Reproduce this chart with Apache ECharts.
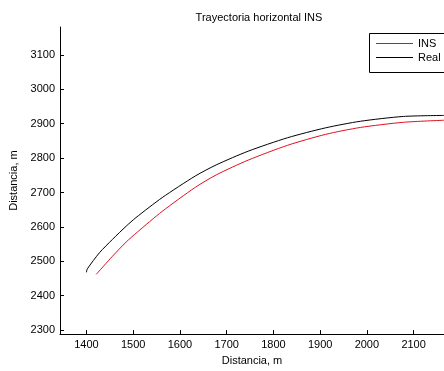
<!DOCTYPE html>
<html>
<head>
<meta charset="utf-8">
<script src="https://cdn.jsdelivr.net/npm/echarts@6/dist/echarts.min.js"></script>
<style>
html,body{margin:0;padding:0;background:#fff;}
#c{width:444px;height:371px;}
</style>
</head>
<body>
<div id="c"></div>
<script>
var titleText = 'Trayectoria horizontal INS';
var xName = 'Distancia, m';
var yName = 'Distancia, m';
var xTicks = [1400, 1500, 1600, 1700, 1800, 1900, 2000, 2100];
var yTicks = [2300, 2400, 2500, 2600, 2700, 2800, 2900, 3000, 3100];

var realX = [1400, 1402, 1428, 1456, 1485, 1506, 1562, 1633, 1679, 1746, 1830, 1912, 1986, 2078, 2165];
var realY = [2468, 2478, 2525, 2564, 2602, 2627, 2685, 2748, 2781, 2820, 2859, 2888, 2907, 2921, 2924];

var insX = [1421, 1456, 1485, 1509, 1562, 1633, 1679, 1746, 1830, 1912, 1986, 2078, 2165];
var insY = [2462, 2515, 2556, 2585, 2645, 2715, 2752, 2794, 2837, 2869, 2889, 2904, 2910];

function pairs(xs, ys) { return xs.map(function (x, i) { return [x, ys[i]]; }); }
function plain(v) { return String(v); }

var FONT = 'Liberation Sans';
var chart = echarts.init(document.getElementById('c'), null, {renderer: 'canvas'});
chart.setOption({
  animation: false,
  backgroundColor: '#fff',
  title: {
    text: titleText,
    left: 254, top: 7,
    textAlign: 'center',
    textStyle: {fontFamily: FONT, fontSize: 11, fontWeight: 'normal', color: '#000'}
  },
  graphic: [{
    type: 'rect', z: 3, silent: true,
    shape: {x: 369.5, y: 33.5, width: 120, height: 39},
    style: {fill: '#fff', stroke: '#000', lineWidth: 1}
  }],
  legend: {
    orient: 'vertical',
    left: 369, top: 33, z: 10,
    padding: [5, 10, 4, 7],
    icon: 'rect',
    itemWidth: 37, itemHeight: 1, itemGap: 3,
    textStyle: {fontFamily: FONT, fontSize: 11, color: '#000'},
    data: ['INS', 'Real']
  },
  grid: {left: 60, top: 27, right: -4, bottom: 36, containLabel: false},
  xAxis: {
    type: 'value',
    min: 1343.5, max: 2165,
    name: xName, nameLocation: 'middle', nameGap: 20,
    nameTextStyle: {fontFamily: FONT, fontSize: 11, color: '#000'},
    axisLine: {show: true, onZero: false, lineStyle: {color: '#000', width: 1}},
    axisTick: {show: true, inside: true, length: 4, customValues: xTicks, lineStyle: {color: '#000'}},
    axisLabel: {customValues: xTicks, formatter: plain, margin: 5, fontFamily: FONT, fontSize: 11, color: '#000'},
    splitLine: {show: false}
  },
  yAxis: {
    type: 'value',
    min: 2288.4, max: 3181,
    name: yName, nameLocation: 'middle', nameGap: 36,
    nameTextStyle: {fontFamily: FONT, fontSize: 11, color: '#000'},
    axisLine: {show: true, onZero: false, lineStyle: {color: '#000', width: 1}},
    axisTick: {show: true, inside: true, length: 4, customValues: yTicks, lineStyle: {color: '#000'}},
    axisLabel: {customValues: yTicks, formatter: plain, margin: 5, fontFamily: FONT, fontSize: 11, color: '#000'},
    splitLine: {show: false}
  },
  series: [
    {name: 'INS', type: 'line', data: pairs(insX, insY), symbol: 'none', smooth: 0.25,
     lineStyle: {color: '#e0101e', width: 1}, itemStyle: {color: '#e0101e'}, clip: true},
    {name: 'Real', type: 'line', data: pairs(realX, realY), symbol: 'none', smooth: 0.25,
     lineStyle: {color: '#000', width: 1}, itemStyle: {color: '#000'}, clip: true}
  ]
});
</script>
</body>
</html>
